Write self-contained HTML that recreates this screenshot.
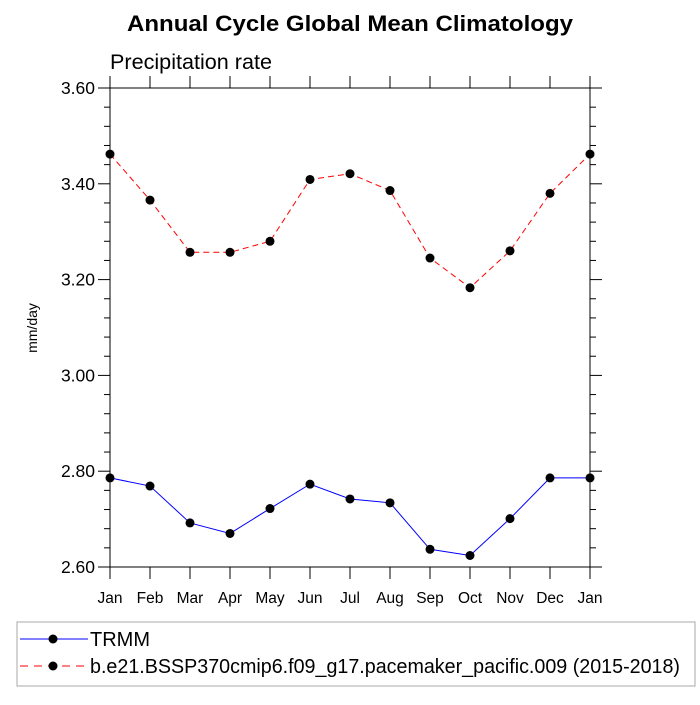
<!DOCTYPE html>
<html><head><meta charset="utf-8"><style>body{margin:0;background:#fff}svg{font-family:"Liberation Sans",sans-serif}</style></head>
<body>
<svg id="c" width="700" height="700" xmlns="http://www.w3.org/2000/svg">
<text x="350" y="31" text-anchor="middle" font-size="22" font-weight="bold" textLength="446" lengthAdjust="spacingAndGlyphs">Annual Cycle Global Mean Climatology</text>
<text x="110" y="69" font-size="21" textLength="162" lengthAdjust="spacingAndGlyphs">Precipitation rate</text>
<text transform="translate(37,328) rotate(-90)" text-anchor="middle" font-size="14">mm/day</text>
<g id="axes"></g>
<g id="series"></g>
<rect x="17" y="622" width="678" height="64" fill="none" stroke="#aaa" stroke-width="1"/>
<g>
<line x1="20" y1="639" x2="88" y2="639" stroke="#00f" stroke-width="1"/><circle cx="53" cy="639" r="4.5"/>
<text x="90" y="646" font-size="20">TRMM</text></g>
<g>
<line x1="20" y1="666" x2="88" y2="666" stroke="#f00" stroke-width="1" stroke-dasharray="8,6"/><circle cx="53" cy="666" r="4.5"/>
<text x="90" y="673" font-size="20" textLength="590" lengthAdjust="spacingAndGlyphs">b.e21.BSSP370cmip6.f09_g17.pacemaker_pacific.009 (2015-2018)</text></g>
</svg>
<script>
const months=["Jan","Feb","Mar","Apr","May","Jun","Jul","Aug","Sep","Oct","Nov","Dec","Jan"];
const trmm=[2.786,2.769,2.692,2.670,2.722,2.773,2.742,2.734,2.637,2.624,2.701,2.786,2.786];
const model=[3.462,3.366,3.257,3.257,3.280,3.409,3.421,3.386,3.245,3.183,3.260,3.380,3.462];
const yTicks=["2.60","2.80","3.00","3.20","3.40","3.60"];
const X0=110,X1=590,Y0=567,Y1=88,ymin=2.6,ymax=3.6;
const sx=i=>X0+i*(X1-X0)/(months.length-1);
const sy=v=>Y0-(v-ymin)/(ymax-ymin)*(Y0-Y1);
const NS="http://www.w3.org/2000/svg";
function mk(t,a,p){const e=document.createElementNS(NS,t);for(const k in a)e.setAttribute(k,a[k]);p.appendChild(e);return e;}
const ax=document.getElementById('axes');
const fr=mk('rect',{x:X0,y:Y1,width:X1-X0,height:Y0-Y1,fill:'none',stroke:'#000','stroke-width':1},ax);


for(let v=0;v<=25;v++){const val=ymin+v*0.04,y=sy(val),maj=v%5==0,L=maj?12:6;
mk('line',{x1:X0-L,y1:y,x2:X0,y2:y,stroke:'#000'},ax);mk('line',{x1:X1,y1:y,x2:X1+L,y2:y,stroke:'#000'},ax);}
yTicks.forEach(t=>{const e=mk('text',{x:X0-15,y:sy(parseFloat(t))+6,'text-anchor':'end','font-size':17.5},ax);e.textContent=t;

});
months.forEach((m,i)=>{const x=sx(i);mk('line',{x1:x,y1:Y0,x2:x,y2:Y0+12,stroke:'#000'},ax);mk('line',{x1:x,y1:Y1-12,x2:x,y2:Y1,stroke:'#000'},ax);
const e=mk('text',{x:x,y:Y0+36,'text-anchor':'middle','font-size':15.5},ax);e.textContent=m;

});
const sg=document.getElementById('series');
[[trmm,'#00f','none','trmm'],[model,'#f00','6,4','model']].forEach(([d,c,da,n])=>{
const p=mk('polyline',{points:d.map((v,i)=>sx(i)+','+sy(v)).join(' '),fill:'none',stroke:c,'stroke-width':1,'stroke-dasharray':da},sg);


d.forEach((v,i)=>{const ci=mk('circle',{cx:sx(i),cy:sy(v),r:4.5,fill:'#000'},sg);

});});
</script>
</body></html>
